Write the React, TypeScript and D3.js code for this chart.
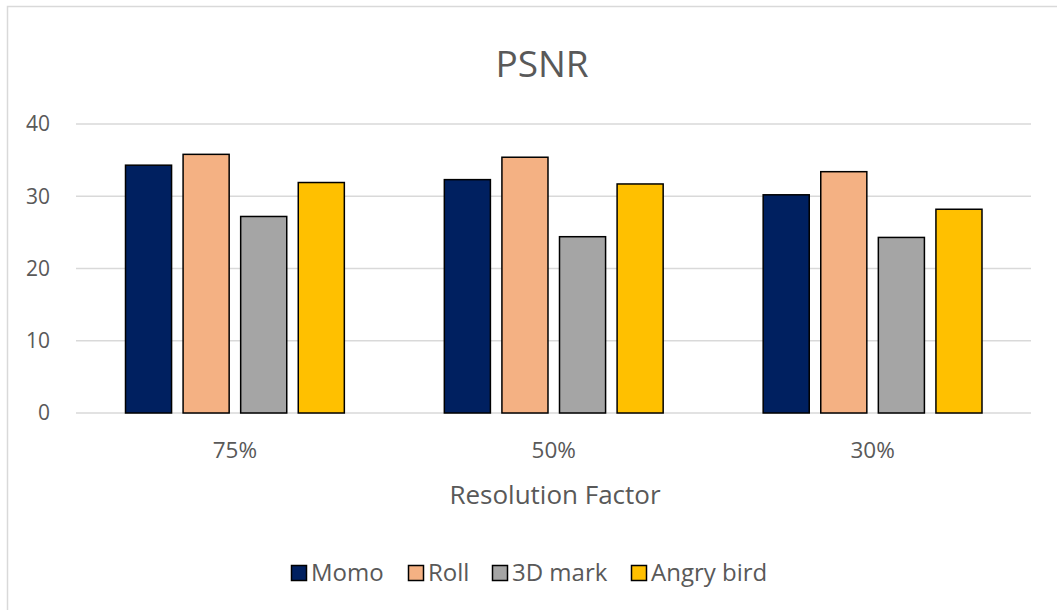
import React, { useEffect, useRef } from "react";
import * as d3 from "d3";

const categories = ["75%", "50%", "30%"];
const seriesNames = ["Momo", "Roll", "3D mark", "Angry bird"];
const momo = [34.3, 32.3, 30.2];
const roll = [35.8, 35.4, 33.4];
const mark3d = [27.2, 24.4, 24.3];
const angryBird = [31.9, 31.7, 28.2];
const yTicks = [0, 10, 20, 30, 40];
const colors = ["#002060", "#f4b183", "#a5a5a5", "#ffc000"];

const font = "'Open Sans', 'Noto Sans', sans-serif";
const textColor = "#595959";

const App = () => {
  const ref = useRef<SVGSVGElement>(null);

  useEffect(() => {
    const svg = d3.select(ref.current);
    svg.selectAll("*").remove();

    const values = [momo, roll, mark3d, angryBird];

    // chart border
    svg
      .append("rect")
      .attr("x", 7.5)
      .attr("y", 6.5)
      .attr("width", 1060)
      .attr("height", 620)
      .attr("fill", "white")
      .attr("stroke", "#d9d9d9")
      .attr("stroke-width", 1.5);

    const x = d3.scaleBand().domain(categories).range([75.5, 1032]);
    const inner = d3
      .scaleBand()
      .domain(seriesNames)
      .range([50, x.bandwidth() - 50])
      .paddingInner(0.2);
    const y = d3.scaleLinear().domain([0, 40]).range([413, 124]);

    // grid
    svg
      .append("g")
      .selectAll("line")
      .data(yTicks)
      .join("line")
      .attr("x1", 76)
      .attr("x2", 1031)
      .attr("y1", (d) => y(d))
      .attr("y2", (d) => y(d))
      .attr("stroke", "#d9d9d9")
      .attr("stroke-width", 1.5);

    // y tick labels
    svg
      .append("g")
      .selectAll("text")
      .data(yTicks)
      .join("text")
      .attr("x", 50)
      .attr("y", (d) => y(d))
      .attr("dy", "0.35em")
      .attr("text-anchor", "end")
      .attr("font-family", font)
      .attr("font-size", 21)
      .attr("fill", textColor)
      .text((d) => d);

    // bars
    seriesNames.forEach((name, si) => {
      svg
        .append("g")
        .selectAll("rect")
        .data(values[si])
        .join("rect")
        .attr("x", (d, i) => x(categories[i])! + inner(name)!)
        .attr("y", (d) => y(d))
        .attr("width", inner.bandwidth())
        .attr("height", (d) => y(0) - y(d))
        .attr("fill", colors[si])
        .attr("stroke", "black")
        .attr("stroke-width", 1.5);
    });

    // x labels
    svg
      .append("g")
      .selectAll("text")
      .data(categories)
      .join("text")
      .attr("x", (d) => x(d)! + x.bandwidth() / 2)
      .attr("y", 450)
      .attr("dy", "0.35em")
      .attr("text-anchor", "middle")
      .attr("font-family", font)
      .attr("font-size", 22.5)
      .attr("fill", textColor)
      .text((d) => d);

    // axis title
    svg
      .append("text")
      .attr("x", 555)
      .attr("y", 495)
      .attr("dy", "0.35em")
      .attr("text-anchor", "middle")
      .attr("font-family", font)
      .attr("font-size", 26)
      .attr("fill", textColor)
      .text("Resolution Factor");

    // title
    svg
      .append("text")
      .attr("x", 542)
      .attr("y", 64)
      .attr("dy", "0.35em")
      .attr("text-anchor", "middle")
      .attr("font-family", font)
      .attr("font-size", 37)
      .attr("fill", textColor)
      .text("PSNR");

    // legend
    const legendX = [291, 408, 492, 631];
    const legend = svg
      .append("g")
      .selectAll("g")
      .data(seriesNames)
      .join("g")
      .attr("transform", (d, i) => `translate(${legendX[i]},573)`);
    legend
      .append("rect")
      .attr("x", 0.5)
      .attr("y", -7.5)
      .attr("width", 15)
      .attr("height", 15)
      .attr("fill", (d, i) => colors[i])
      .attr("stroke", "black")
      .attr("stroke-width", 1.5);
    legend
      .append("text")
      .attr("x", 20)
      .attr("y", 0)
      .attr("dy", "0.35em")
      .attr("font-family", font)
      .attr("font-size", 24)
      .attr("fill", textColor)
      .text((d) => d);
  });

  return (
    <svg
      ref={ref}
      width={1057}
      height={610}
      style={{ position: "absolute", left: 0, top: 0 }}
    ></svg>
  );
};

export default App;
